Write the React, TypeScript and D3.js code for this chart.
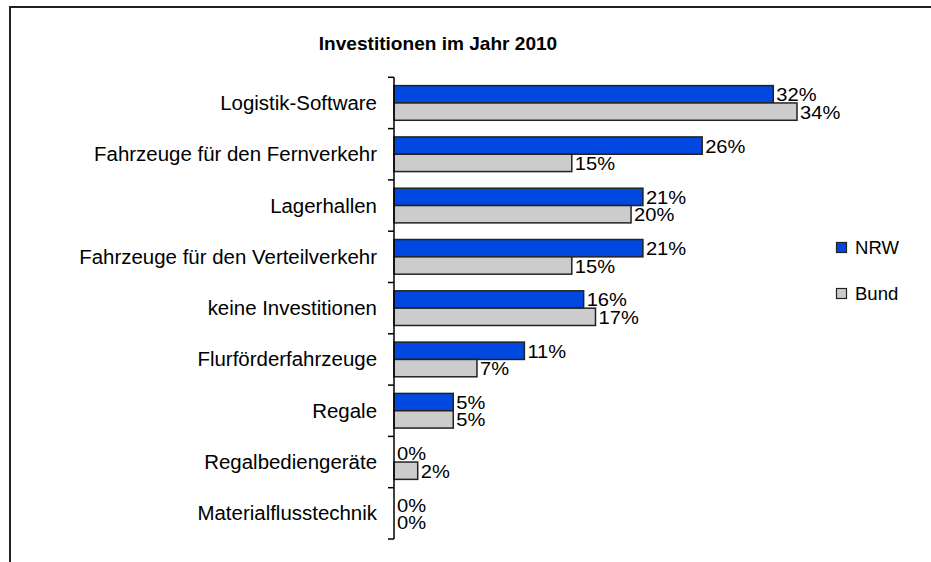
import React from "react";
import * as d3 from "d3";

const categories = [
  "Logistik-Software",
  "Fahrzeuge für den Fernverkehr",
  "Lagerhallen",
  "Fahrzeuge für den Verteilverkehr",
  "keine Investitionen",
  "Flurförderfahrzeuge",
  "Regale",
  "Regalbediengeräte",
  "Materialflusstechnik",
];
const seriesNames = ["NRW", "Bund"];
const nrw = [32, 26, 21, 21, 16, 11, 5, 0, 0];
const bund = [34, 15, 20, 15, 17, 7, 5, 2, 0];
const colors = ["#0048E0", "#CCCCCC"];

const W = 931;
const H = 562;
const font = "'Liberation Sans', Arial, sans-serif";
const SX = 1.06; // the original text is slightly stretched horizontally

export default function App() {
  const x = d3.scaleLinear().domain([0, 34]).range([394, 797]);
  const y = d3.scaleBand().domain(categories).range([77.3, 539]).padding(0);
  const sub = d3.scaleBand().domain(seriesNames).range([0, y.bandwidth()]).paddingInner(0).paddingOuter(0.48);
  const values = [nrw, bund];
  const ticks = categories.map((c) => y(c)!).concat([y.range()[1]]);

  return (
    <svg width={W} height={H} style={{ position: "absolute", left: 0, top: 0, background: "#fff" }} fontFamily={font}>
      <rect x={0} y={0} width={W} height={H} fill="#fff" />
      <path d={`M10,${H + 5}V7H${W + 5}`} fill="none" stroke="#222" strokeWidth={2} />
      <g transform={`translate(438,50)scale(${SX},1)`}>
        <text textAnchor="middle" fontWeight="bold" fontSize={18} fill="#000">
          Investitionen im Jahr 2010
        </text>
      </g>

      {/* bars */}
      {categories.map((c, i) =>
        seriesNames.map((s, k) => {
          const v = values[k][i];
          const by = y(c)! + sub(s)!;
          const bh = sub.bandwidth();
          return (
            <g key={c + s}>
              {v > 0 && (
                <rect x={x(0)} y={by} width={x(v) - x(0)} height={bh} fill={colors[k]} stroke="#222" strokeWidth={1.5} />
              )}
              <g transform={`translate(${x(v) + 3},${by + bh / 2 + 7})scale(${SX},1)`}>
                <text fontSize={19} fill="#000">{v}%</text>
              </g>
            </g>
          );
        })
      )}

      {/* axis */}
      <line x1={394} x2={394} y1={ticks[0]} y2={ticks[ticks.length - 1]} stroke="#000" strokeWidth={1.5} />
      {ticks.map((t, i) => (
        <line key={i} x1={388} x2={394} y1={t} y2={t} stroke="#000" strokeWidth={1.5} />
      ))}
      {categories.map((c) => (
        <g key={c} transform={`translate(377,${y(c)! + y.bandwidth() / 2 + 7})scale(${SX},1)`}>
          <text textAnchor="end" fontSize={19.3} fill="#000">{c}</text>
        </g>
      ))}

      {/* legend */}
      {seriesNames.map((s, k) => (
        <g key={s} transform={`translate(836,${242 + k * 46})`}>
          <rect x={0.5} y={0.5} width={10} height={10} fill={colors[k]} stroke="#222" strokeWidth={1.2} />
          <g transform={`translate(19,12)scale(${SX},1)`}>
            <text fontSize={17.5} fill="#000">{s}</text>
          </g>
        </g>
      ))}
    </svg>
  );
}
